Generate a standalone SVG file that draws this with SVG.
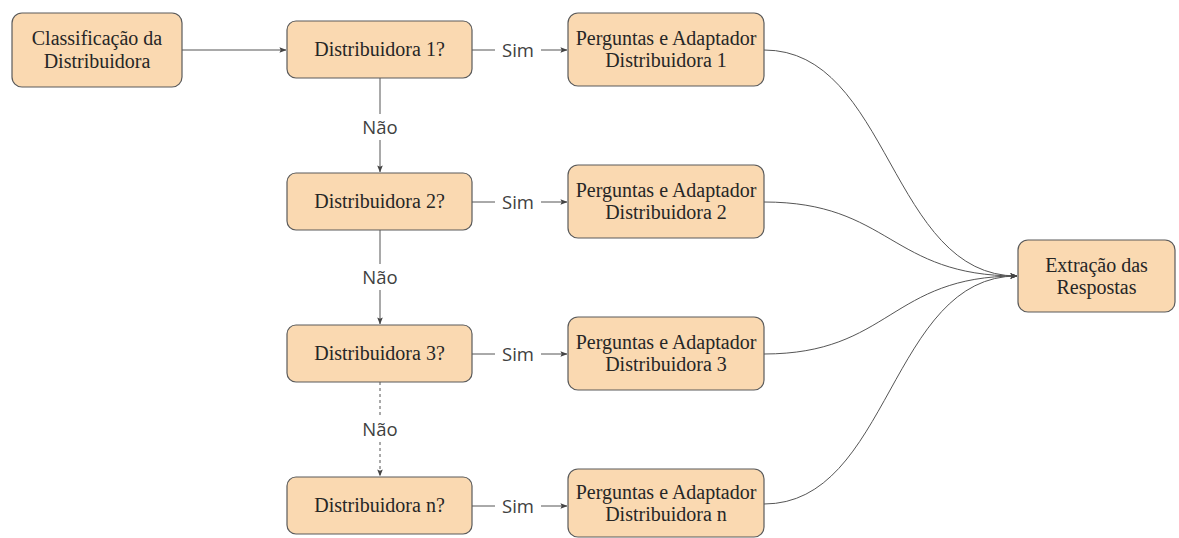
<svg xmlns="http://www.w3.org/2000/svg" width="1179" height="538" viewBox="0 0 1179 538">
<style>
.box{fill:#fad9b1;stroke:#5b5b5b;stroke-width:1.2}
.t{font-family:"Liberation Serif","Times New Roman",serif;font-size:20px;fill:#262626;text-anchor:middle}
.lbl{font-family:"Open Sans","Noto Sans",sans-serif;font-size:18.5px;fill:#404040;text-anchor:middle}
.ln{fill:none;stroke:#555;stroke-width:1}
.bg{fill:#fff}
</style>
<defs>
<marker id="a" viewBox="0 0 8 8" refX="7.5" refY="4" markerWidth="7" markerHeight="7" markerUnits="userSpaceOnUse" orient="auto">
<path d="M0,0.8 L8,4 L0,7.2 L1.5,4 Z" fill="#444"/>
</marker>
</defs>
<g id="connectors">
<path class="ln" d="M182,50 H286" marker-end="url(#a)"/>
<path class="ln" d="M472,50 H567" marker-end="url(#a)"/>
<path class="ln" d="M472,202 H567" marker-end="url(#a)"/>
<path class="ln" d="M472,354 H567" marker-end="url(#a)"/>
<path class="ln" d="M472,506 H567" marker-end="url(#a)"/>
<path class="ln" d="M380,78 V172" marker-end="url(#a)"/>
<path class="ln" d="M380,230 V324" marker-end="url(#a)"/>
<path class="ln" d="M380,382 V476" stroke-dasharray="3,3" marker-end="url(#a)"/>
<rect class="bg" x="495" y="38" width="46" height="24"/>
<text class="lbl" x="518" y="57">Sim</text>
<rect class="bg" x="495" y="190" width="46" height="24"/>
<text class="lbl" x="518" y="209">Sim</text>
<rect class="bg" x="495" y="342" width="46" height="24"/>
<text class="lbl" x="518" y="361">Sim</text>
<rect class="bg" x="495" y="494" width="46" height="24"/>
<text class="lbl" x="518" y="513">Sim</text>
<rect class="bg" x="356" y="114" width="48" height="26"/>
<text class="lbl" x="380" y="134">Não</text>
<rect class="bg" x="356" y="264" width="48" height="26"/>
<text class="lbl" x="380" y="284">Não</text>
<rect class="bg" x="356" y="416" width="48" height="26"/>
<text class="lbl" x="380" y="436">Não</text>
<path class="ln" d="M764,50 C890,50 890,276 1017,276" marker-end="url(#a)"/>
<path class="ln" d="M764,202 C890,202 890,276 1017,276" marker-end="url(#a)"/>
<path class="ln" d="M764,354 C890,354 890,276 1017,276" marker-end="url(#a)"/>
<path class="ln" d="M764,504 C890,504 890,276 1017,276" marker-end="url(#a)"/>
</g>
<g id="classificacao">
<rect class="box" x="12" y="13" width="170" height="74" rx="10"/>
<text class="t" x="97" y="45">Classificação da</text>
<text class="t" x="97" y="68">Distribuidora</text>
</g>
<g id="dist1">
<rect class="box" x="287" y="21" width="185" height="57" rx="9"/>
<text class="t" x="379.5" y="56">Distribuidora 1?</text>
</g>
<g id="dist2">
<rect class="box" x="287" y="173" width="185" height="57" rx="9"/>
<text class="t" x="379.5" y="208">Distribuidora 2?</text>
</g>
<g id="dist3">
<rect class="box" x="287" y="325" width="185" height="57" rx="9"/>
<text class="t" x="379.5" y="360">Distribuidora 3?</text>
</g>
<g id="distn">
<rect class="box" x="287" y="477" width="185" height="57" rx="9"/>
<text class="t" x="379.5" y="512">Distribuidora n?</text>
</g>
<g id="perg1">
<rect class="box" x="568" y="13" width="196" height="73" rx="10"/>
<text class="t" x="666" y="45">Perguntas e Adaptador</text>
<text class="t" x="666" y="67">Distribuidora 1</text>
</g>
<g id="perg2">
<rect class="box" x="568" y="165" width="196" height="73" rx="10"/>
<text class="t" x="666" y="197">Perguntas e Adaptador</text>
<text class="t" x="666" y="219">Distribuidora 2</text>
</g>
<g id="perg3">
<rect class="box" x="568" y="317" width="196" height="73" rx="10"/>
<text class="t" x="666" y="349">Perguntas e Adaptador</text>
<text class="t" x="666" y="371">Distribuidora 3</text>
</g>
<g id="pergn">
<rect class="box" x="568" y="469" width="196" height="68" rx="10"/>
<text class="t" x="666" y="499">Perguntas e Adaptador</text>
<text class="t" x="666" y="521">Distribuidora n</text>
</g>
<g id="extracao">
<rect class="box" x="1018" y="240" width="157" height="72" rx="10"/>
<text class="t" x="1096.5" y="272">Extração das</text>
<text class="t" x="1096.5" y="294">Respostas</text>
</g>
</svg>
